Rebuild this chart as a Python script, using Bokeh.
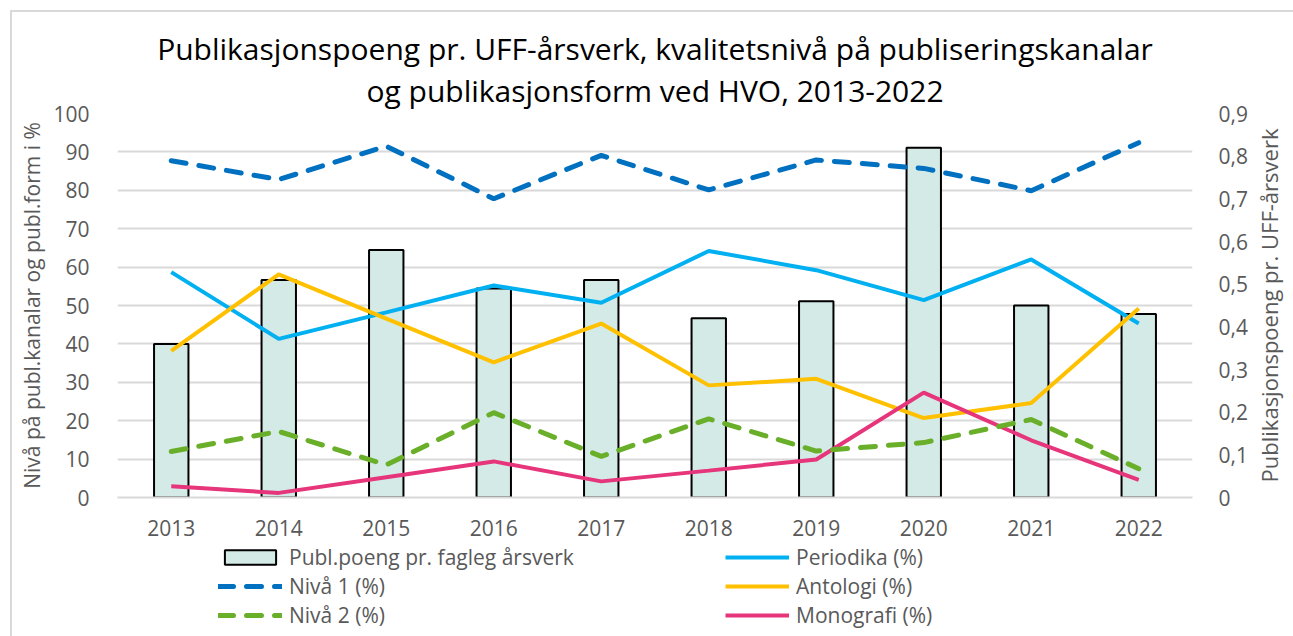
from bokeh.plotting import figure
from bokeh.layouts import column, row
from bokeh.models import (Range1d, LinearAxis, FactorRange, Legend, LegendItem,
                          FixedTicker, CustomJSTickFormatter, Title)
from bokeh.embed import file_html
from bokeh.resources import INLINE

# ---------------- data ----------------
years = ["2013", "2014", "2015", "2016", "2017", "2018", "2019", "2020", "2021", "2022"]
publ_poeng = [0.36, 0.51, 0.58, 0.49, 0.51, 0.42, 0.46, 0.82, 0.45, 0.43]
niva1 = [87.7, 82.8, 91.5, 77.8, 89.1, 80.1, 87.9, 85.7, 79.9, 92.4]
niva2 = [12.0, 17.2, 8.5, 22.1, 10.7, 20.5, 12.1, 14.3, 20.3, 7.5]
periodika = [58.7, 41.3, 48.2, 55.2, 50.7, 64.2, 59.2, 51.4, 62.0, 45.3]
antologi = [38.2, 58.1, 46.6, 35.2, 45.3, 29.2, 30.9, 20.7, 24.6, 49.2]
monografi = [2.9, 1.2, 5.3, 9.4, 4.2, 7.0, 9.9, 27.3, 14.9, 4.6]

left_ticks = [0, 10, 20, 30, 40, 50, 60, 70, 80, 90, 100]
right_ticks = [0, 0.1, 0.2, 0.3, 0.4, 0.5, 0.6, 0.7, 0.8, 0.9]

title_line1 = "Publikasjonspoeng pr. UFF-årsverk, kvalitetsnivå på publiseringskanalar"
title_line2 = "og publikasjonsform ved HVO, 2013-2022"
left_label = "Nivå på publ.kanalar og publ.form i %"
right_label = "Publikasjonspoeng pr. UFF-årsverk"

FONT = "Open Sans"
GRAY = "#595959"
GRID = "#D9D9D9"
DASH = "15 13"
C_BAR = "#D4EAE7"
C_N1 = "#0070C0"
C_N2 = "#6AAF2A"
C_PER = "#00B0F0"
C_ANT = "#FFC000"
C_MON = "#E6357A"

W_MAIN = 1250
W_RIGHT = 43
H_MAIN = 543
H_LEG = 93
TOPLINE = "linear-gradient(#D9D9D9,#D9D9D9) 0px 10px / 100% 2px no-repeat"

# ---------------- main chart ----------------
p = figure(x_range=FactorRange(factors=years), y_range=Range1d(0, 100),
           width=W_MAIN, height=H_MAIN, output_backend="svg", toolbar_location=None,
           title=None,
           min_border_left=117, min_border_right=57, min_border_top=113, min_border_bottom=46)
p.extra_y_ranges = {"right": Range1d(0, 0.9)}
p.outline_line_color = None
p.background_fill_color = "white"
p.border_fill_color = None
p.styles = {
    "background": ("linear-gradient(#D9D9D9,#D9D9D9) 10px 10px / 2px 100% no-repeat, "
                   "linear-gradient(#D9D9D9,#D9D9D9) 10px 10px / 100% 2px no-repeat, white"),
}

# title (two centred lines; first added sits nearest the plot)
t2 = Title(text=title_line2, align="center", text_font=FONT, text_font_size="30px",
           text_font_style="normal", text_color="black", standoff=6)
t1 = Title(text=title_line1, align="center", text_font=FONT, text_font_size="30px",
           text_font_style="normal", text_color="black", standoff=-9)
p.add_layout(t2, "above")
p.add_layout(t1, "above")

# grid
p.xgrid.grid_line_color = None
p.ygrid.ticker = FixedTicker(ticks=left_ticks)
p.ygrid.grid_line_color = GRID
p.ygrid.grid_line_width = 2

# left axis
la = p.yaxis[0]
la.ticker = FixedTicker(ticks=left_ticks)
la.axis_line_color = None
la.major_tick_line_color = None
la.minor_tick_line_color = None
la.major_label_text_font = FONT
la.major_label_text_font_size = "21px"
la.major_label_text_color = GRAY
la.major_label_standoff = 22
la.axis_label = left_label
la.axis_label_text_font = FONT
la.axis_label_text_font_size = "21px"
la.axis_label_text_font_style = "normal"
la.axis_label_text_color = GRAY
la.axis_label_standoff = 4

# bottom axis
xa = p.xaxis[0]
xa.axis_line_color = GRID
xa.axis_line_width = 2
xa.major_tick_line_color = None
xa.minor_tick_line_color = None
xa.major_label_text_font = FONT
xa.major_label_text_font_size = "21px"
xa.major_label_text_color = GRAY
xa.major_label_standoff = 16

# right axis (tick labels)
ra = LinearAxis(y_range_name="right", ticker=FixedTicker(ticks=right_ticks))
ra.formatter = CustomJSTickFormatter(code="return tick == 0 ? '0' : tick.toFixed(1).replace('.', ',');")
ra.axis_line_color = None
ra.major_tick_line_color = None
ra.minor_tick_line_color = None
ra.major_label_text_font = FONT
ra.major_label_text_font_size = "21px"
ra.major_label_text_color = GRAY
ra.major_label_standoff = 20
p.add_layout(ra, "right")

# bars
p.vbar(x=years, top=publ_poeng, width=0.32, y_range_name="right",
       fill_color=C_BAR, line_color="black", line_width=2)

# lines
p.line(years, periodika, line_color=C_PER, line_width=4)
p.line(years, antologi, line_color=C_ANT, line_width=4)
p.line(years, monografi, line_color=C_MON, line_width=4)
p.line(years, niva1, line_color=C_N1, line_width=5, line_dash=DASH, line_cap="round")
p.line(years, niva2, line_color=C_N2, line_width=5, line_dash=DASH, line_cap="round")

# ---------------- right-hand axis title (reads bottom-to-top) ----------------
r = figure(width=W_RIGHT, height=H_MAIN, x_range=Range1d(0, 1), y_range=Range1d(0, 0.9),
           output_backend="svg", toolbar_location=None, title=None,
           x_axis_location=None, y_axis_location="left",
           min_border_left=30, min_border_right=0, min_border_top=113, min_border_bottom=46)
r.xgrid.grid_line_color = None
r.ygrid.grid_line_color = None
r.outline_line_color = None
r.background_fill_color = None
r.border_fill_color = None
r.styles = {"background": TOPLINE + ", white"}
ry = r.yaxis[0]
ry.ticker = FixedTicker(ticks=[])
ry.axis_line_color = None
ry.major_tick_line_color = None
ry.minor_tick_line_color = None
ry.major_label_text_font_size = "1px"
ry.major_label_standoff = 0
ry.axis_label = right_label
ry.axis_label_text_font = FONT
ry.axis_label_text_font_size = "22px"
ry.axis_label_text_font_style = "normal"
ry.axis_label_text_color = GRAY
ry.axis_label_standoff = 0

# ---------------- legend panel (separate figure below) ----------------
q = figure(width=W_MAIN, height=H_LEG, x_range=FactorRange(factors=years), y_range=Range1d(0, 100),
           output_backend="svg", toolbar_location=None, title=None,
           x_axis_location=None, y_axis_location=None,
           min_border_left=117, min_border_right=57, min_border_top=0, min_border_bottom=0)
q.extra_y_ranges = {"right": Range1d(0, 0.9)}
q.xgrid.grid_line_color = None
q.ygrid.grid_line_color = None
q.outline_line_color = None
q.background_fill_color = None
q.border_fill_color = None
q.styles = {
    "background": "linear-gradient(#D9D9D9,#D9D9D9) 10px 0px / 2px 100% no-repeat, white",
}

# legend-only renderers (hidden; they only supply the legend glyph styles)
lb = q.vbar(x=years, top=publ_poeng, width=0.32, y_range_name="right",
            fill_color=C_BAR, line_color="black", line_width=2, visible=False)
ln1 = q.line(years, niva1, line_color=C_N1, line_width=5, line_dash=DASH, line_cap="round", visible=False)
ln2 = q.line(years, niva2, line_color=C_N2, line_width=5, line_dash=DASH, line_cap="round", visible=False)
lp = q.line(years, periodika, line_color=C_PER, line_width=4, visible=False)
lan = q.line(years, antologi, line_color=C_ANT, line_width=4, visible=False)
lm = q.line(years, monografi, line_color=C_MON, line_width=4, visible=False)

legend = Legend(items=[
    LegendItem(label="Publ.poeng pr. fagleg årsverk", renderers=[lb]),
    LegendItem(label="Nivå 1 (%)", renderers=[ln1]),
    LegendItem(label="Nivå 2 (%)", renderers=[ln2]),
    LegendItem(label="Periodika (%)", renderers=[lp]),
    LegendItem(label="Antologi (%)", renderers=[lan]),
    LegendItem(label="Monografi (%)", renderers=[lm]),
], location=(101, 7), orientation="vertical", nrows=3, ncols=2)
legend.margin = 0
legend.padding = 0
legend.spacing = 1
legend.glyph_width = 64
legend.glyph_height = 18
legend.label_height = 22
legend.label_width = 435
legend.label_standoff = 7
legend.label_text_font = FONT
legend.label_text_font_size = "21px"
legend.label_text_color = GRAY
legend.border_line_color = None
legend.background_fill_alpha = 0
q.add_layout(legend, "center")

layout = row(column(p, q, spacing=0), r, spacing=0)
open("out.html", "w").write(file_html(layout, INLINE))
